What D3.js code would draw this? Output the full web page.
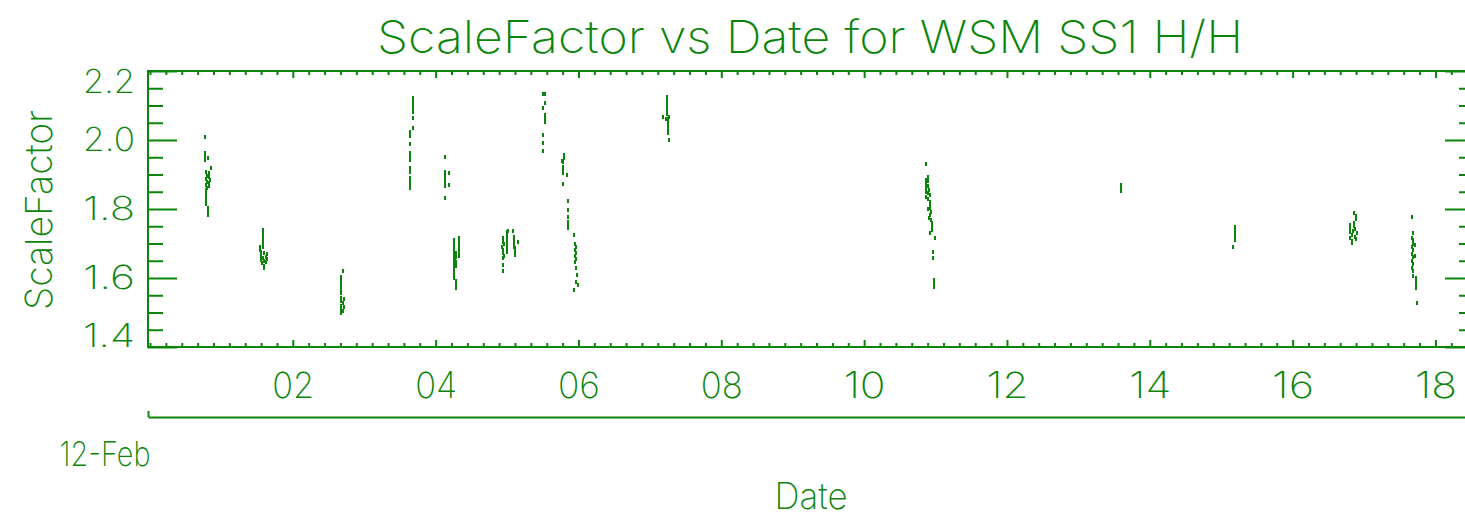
<!DOCTYPE html>
<html>
<head>
<meta charset="utf-8">
<script src="https://cdn.jsdelivr.net/npm/d3@7"></script>
<style>
  body { margin: 0; background: #fff; }
  svg text { font-family: Inter, Roboto, "DejaVu Sans", sans-serif; font-weight: 200; fill: #0a850a; }
</style>
</head>
<body>
<svg width="1465" height="517"></svg>
<script>
// times are decimal day-of-month in Feb 2012 (2.0 = Feb 2 00:00, 0.5 = Jan 31 12:00)
var pass01 = [[0.77,2.008],[0.77,1.963],[0.77,1.953],[0.77,1.943],[0.81,1.948],[0.85,1.919],
  [0.79,1.907],[0.83,1.905],[0.80,1.897],[0.82,1.893],[0.79,1.887],[0.84,1.884],[0.80,1.878],
  [0.83,1.875],[0.79,1.870],[0.82,1.866],[0.80,1.862],[0.79,1.855],[0.79,1.845],[0.79,1.835],
  [0.79,1.825],[0.79,1.815],[0.81,1.803],[0.81,1.793],[0.81,1.783]];
var pass02 = [[1.58,1.739],[1.58,1.729],[1.58,1.719],[1.58,1.709],[1.58,1.699],[1.58,1.691],
  [1.54,1.690],[1.54,1.681],[1.55,1.675],[1.60,1.672],[1.64,1.670],[1.56,1.665],[1.62,1.662],
  [1.58,1.658],[1.64,1.655],[1.55,1.652],[1.60,1.650],[1.63,1.646],[1.57,1.643],[1.59,1.636],[1.59,1.628]];
var pass03 = [[2.70,1.621],[2.68,1.604],[2.68,1.594],[2.68,1.584],[2.68,1.574],[2.68,1.564],[2.68,1.556],
  [2.67,1.543],[2.71,1.540],[2.67,1.532],[2.70,1.528],[2.68,1.520],[2.71,1.515],[2.67,1.510],
  [2.70,1.505],[2.68,1.498]];
var pass04 = [[3.68,2.121],[3.68,2.111],[3.68,2.101],[3.68,2.091],[3.68,2.081],[3.68,2.063],[3.68,2.034],
  [3.64,2.024],[3.64,2.012],[3.64,1.988],[3.64,1.961],[3.64,1.951],[3.64,1.942],[3.64,1.918],
  [3.64,1.908],[3.64,1.889],[3.64,1.879],[3.64,1.869],[3.64,1.860]];
var pass05 = [[4.13,1.952],[4.13,1.908],[4.13,1.898],[4.13,1.888],[4.13,1.878],[4.13,1.868],
  [4.18,1.905],[4.18,1.870],[4.13,1.831]];
var pass06 = [[4.32,1.715],[4.32,1.705],[4.32,1.695],[4.32,1.685],[4.32,1.675],[4.32,1.665],
  [4.25,1.710],[4.25,1.700],[4.25,1.690],[4.25,1.680],[4.25,1.670],[4.25,1.660],[4.25,1.650],[4.25,1.640],
  [4.28,1.672],[4.29,1.660],[4.27,1.652],[4.29,1.645],[4.28,1.635],
  [4.26,1.628],[4.26,1.618],[4.26,1.608],[4.26,1.600],[4.28,1.592],[4.28,1.582],[4.28,1.572]];
var pass07 = [[5.01,1.736],[5.09,1.736],[5.00,1.734],[5.00,1.724],[5.00,1.714],[5.00,1.704],[5.00,1.694],
  [5.00,1.684],[5.00,1.676],[4.95,1.716],[4.94,1.705],[4.96,1.698],[4.93,1.690],[4.95,1.682],
  [4.94,1.672],[4.96,1.665],[4.94,1.658],[4.95,1.638],[4.95,1.620],
  [5.10,1.720],[5.10,1.710],[5.10,1.700],[5.10,1.690],[5.15,1.705],[5.11,1.686],[5.11,1.676],[5.11,1.667]];
var pass08 = [[5.50,2.132],[5.53,2.132],[5.53,2.107],[5.50,2.092],[5.53,2.072],[5.53,2.062],[5.53,2.053],
  [5.50,2.015],[5.50,1.992],[5.50,1.969]];
var pass09 = [[5.80,1.957],[5.80,1.947],[5.77,1.940],[5.79,1.937],[5.78,1.923],[5.78,1.913],[5.78,1.903],
  [5.84,1.900],[5.78,1.872],[5.85,1.823],[5.85,1.797],[5.85,1.778],[5.85,1.763],[5.85,1.753],[5.85,1.744]];
var pass10 = [[5.94,1.725],[5.95,1.698],[5.96,1.690],[5.95,1.680],[5.97,1.672],[5.95,1.664],[5.96,1.655],
  [5.95,1.647],[5.96,1.628],[5.98,1.609],[5.96,1.589],[5.99,1.580],[5.94,1.565]];
var pass11 = [[7.24,2.126],[7.24,2.116],[7.24,2.106],[7.24,2.096],[7.24,2.086],[7.24,2.076],
  [7.19,2.068],[7.27,2.068],[7.22,2.060],[7.26,2.060],[7.25,2.050],[7.25,2.040],
  [7.26,2.029],[7.26,2.021],[7.27,2.000]];
var pass12 = [[10.87,1.930],[10.90,1.894],[10.86,1.884],[10.89,1.880],[10.86,1.872],[10.90,1.868],
  [10.87,1.860],[10.91,1.855],[10.86,1.850],[10.89,1.845],[10.92,1.840],[10.87,1.835],[10.90,1.830],
  [10.92,1.820],[10.92,1.810],[10.92,1.802],[10.90,1.800],[10.93,1.790],[10.92,1.782],[10.91,1.774],
  [10.94,1.768],[10.95,1.760],[10.95,1.750],[10.95,1.740],[10.92,1.730],[10.99,1.715],
  [10.97,1.676],[10.97,1.657],[10.98,1.594],[10.98,1.584],[10.98,1.575]];
var pass13 = [[13.60,1.870],[13.60,1.861],[13.60,1.852]];
var pass14 = [[15.20,1.749],[15.20,1.739],[15.20,1.729],[15.20,1.719],[15.20,1.709],[15.17,1.691]];
var pass15 = [[16.86,1.788],[16.89,1.780],[16.89,1.770],[16.86,1.759],[16.80,1.754],[16.86,1.752],
  [16.81,1.745],[16.88,1.742],[16.84,1.736],[16.80,1.732],[16.90,1.730],[16.83,1.725],[16.87,1.720],
  [16.81,1.716],[16.89,1.714],[16.83,1.708],[16.83,1.701]];
var pass16 = [[17.67,1.776],[17.69,1.730],[17.67,1.715],[17.68,1.710],[17.68,1.700],[17.67,1.690],
  [17.68,1.680],[17.67,1.670],[17.68,1.660],[17.67,1.650],[17.68,1.640],[17.67,1.630],[17.68,1.620],
  [17.72,1.695],[17.72,1.665],[17.69,1.606],[17.73,1.599],[17.73,1.589],[17.73,1.579],[17.73,1.570],
  [17.74,1.528]];

var yTicks = [1.4, 1.6, 1.8, 2.0, 2.2];
var monthLabel = "12-Feb";
var titleText = "ScaleFactor vs Date for WSM SS1 H/H";
var xTitle = "Date", yTitle = "ScaleFactor";

var passes = [pass01, pass02, pass03, pass04, pass05, pass06, pass07, pass08,
  pass09, pass10, pass11, pass12, pass13, pass14, pass15, pass16];

function febDay(d) {
  return new Date(new Date(2012, 1, 1).getTime() + (d - 1) * 864e5);
}

var svg = d3.select("svg"),
    green = "#0a850a",
    plotLeft = 148, plotRight = 1474, plotTop = 71, plotBottom = 347;

var x = d3.scaleTime()
    .domain([febDay(-0.028), febDay(18.54)])
    .range([plotLeft, plotRight]);

var y = d3.scaleLinear()
    .domain([1.4, 2.2])
    .range([plotBottom, plotTop]);

var majorX = x.ticks(d3.timeDay.filter(function(d) { return d.getMonth() == 1 && d.getDate() % 2 == 0; }));
// 9 minor steps per 2-day major interval
var minorX = [];
for (var t = febDay(0); t <= x.domain()[1]; t = d3.timeMinute.offset(t, 320)) {
  if (t >= x.domain()[0] && !majorX.some(function(m) { return Math.abs(m - t) < 6e4; })) minorX.push(t);
}
var minorY = y.ticks(16).filter(function(v) { return Math.round(v * 100) % 20 != 0; });

// strip d3 defaults, colour ticks green
function clean(g) {
  g.attr("font-family", null).attr("font-size", null);
  g.select(".domain").remove();
  g.selectAll(".tick line").attr("stroke", green).style("stroke-width", 2);
}

svg.append("rect")
    .attr("x", plotLeft).attr("y", plotTop)
    .attr("width", plotRight - plotLeft).attr("height", plotBottom - plotTop)
    .attr("fill", "none").attr("stroke", green).attr("stroke-width", 2);

// x axes, bottom and top
svg.append("g")
    .attr("transform", "translate(0," + plotBottom + ")")
    .call(d3.axisBottom(x).tickValues(majorX).tickSizeInner(-7).tickSizeOuter(0)
      .tickPadding(25).tickFormat(d3.timeFormat("%d")))
    .call(clean)
    .selectAll("text")
      .style("font-size", "36px")
      .attr("textLength", 42).attr("lengthAdjust", "spacingAndGlyphs");

svg.append("g")
    .attr("transform", "translate(0," + plotBottom + ")")
    .call(d3.axisBottom(x).tickValues(minorX).tickSizeInner(-4).tickSizeOuter(0).tickFormat(""))
    .call(clean);

svg.append("g")
    .attr("transform", "translate(0," + plotTop + ")")
    .call(d3.axisTop(x).tickValues(majorX).tickSizeInner(-7).tickSizeOuter(0).tickFormat(""))
    .call(clean);

svg.append("g")
    .attr("transform", "translate(0," + plotTop + ")")
    .call(d3.axisTop(x).tickValues(minorX).tickSizeInner(-4).tickSizeOuter(0).tickFormat(""))
    .call(clean);

// y axes, left and right (ticks point into the plot)
var yl = svg.append("g")
    .attr("transform", "translate(" + plotLeft + ",0)")
    .call(d3.axisLeft(y).tickValues(yTicks).tickSizeInner(-29).tickSizeOuter(0)
      .tickPadding(13).tickFormat(d3.format(".1f")))
    .call(clean);

yl.selectAll("text")
    .style("font-size", "33px")
    .attr("textLength", 52).attr("lengthAdjust", "spacingAndGlyphs")
    .attr("transform", function(d) { return d == 2.2 ? "translate(0,11)" : d == 1.4 ? "translate(0,-11)" : null; });

svg.append("g")
    .attr("transform", "translate(" + plotLeft + ",0)")
    .call(d3.axisLeft(y).tickValues(minorY).tickSizeInner(-15).tickSizeOuter(0).tickFormat(""))
    .call(clean);

svg.append("g")
    .attr("transform", "translate(" + plotRight + ",0)")
    .call(d3.axisRight(y).tickValues(yTicks).tickSizeInner(-29).tickSizeOuter(0).tickFormat(""))
    .call(clean);

svg.append("g")
    .attr("transform", "translate(" + plotRight + ",0)")
    .call(d3.axisRight(y).tickValues(minorY).tickSizeInner(-15).tickSizeOuter(0).tickFormat(""))
    .call(clean);

// second level date axis (year-month)
var mAxis = svg.append("g")
    .attr("transform", "translate(0,417)")
    .call(d3.axisBottom(x).tickValues([x.domain()[0]]).tickSizeInner(-6).tickSizeOuter(0)
      .tickPadding(25).tickFormat(function() { return monthLabel; }))
    .attr("font-family", null).attr("font-size", null);
mAxis.select(".domain").attr("stroke", green).style("stroke-width", 2);
mAxis.selectAll(".tick line").attr("stroke", green).style("stroke-width", 2);
mAxis.selectAll("text")
    .attr("text-anchor", "end").attr("x", 2)
    .style("font-size", "34px")
    .attr("textLength", 91).attr("lengthAdjust", "spacingAndGlyphs");

// data points
svg.append("g")
    .attr("shape-rendering", "crispEdges")
  .selectAll("rect")
  .data(d3.merge(passes))
  .enter().append("rect")
    .attr("x", function(d) { return Math.round(x(febDay(d[0]))) - 1; })
    .attr("y", function(d) { return Math.round(y(d[1])) - 2; })
    .attr("width", 2)
    .attr("height", 4)
    .attr("fill", green);

// titles
svg.append("text")
    .attr("x", 810).attr("y", 53)
    .attr("text-anchor", "middle")
    .style("font-size", "45px")
    .attr("textLength", 866).attr("lengthAdjust", "spacingAndGlyphs")
    .text(titleText);

svg.append("text")
    .attr("x", 811).attr("y", 509)
    .attr("text-anchor", "middle")
    .style("font-size", "36px")
    .attr("textLength", 73).attr("lengthAdjust", "spacingAndGlyphs")
    .text(xTitle);

svg.append("text")
    .attr("transform", "translate(52,210) rotate(-90)")
    .attr("text-anchor", "middle")
    .style("font-size", "37px")
    .attr("textLength", 200).attr("lengthAdjust", "spacingAndGlyphs")
    .text(yTitle);
</script>
</body>
</html>
